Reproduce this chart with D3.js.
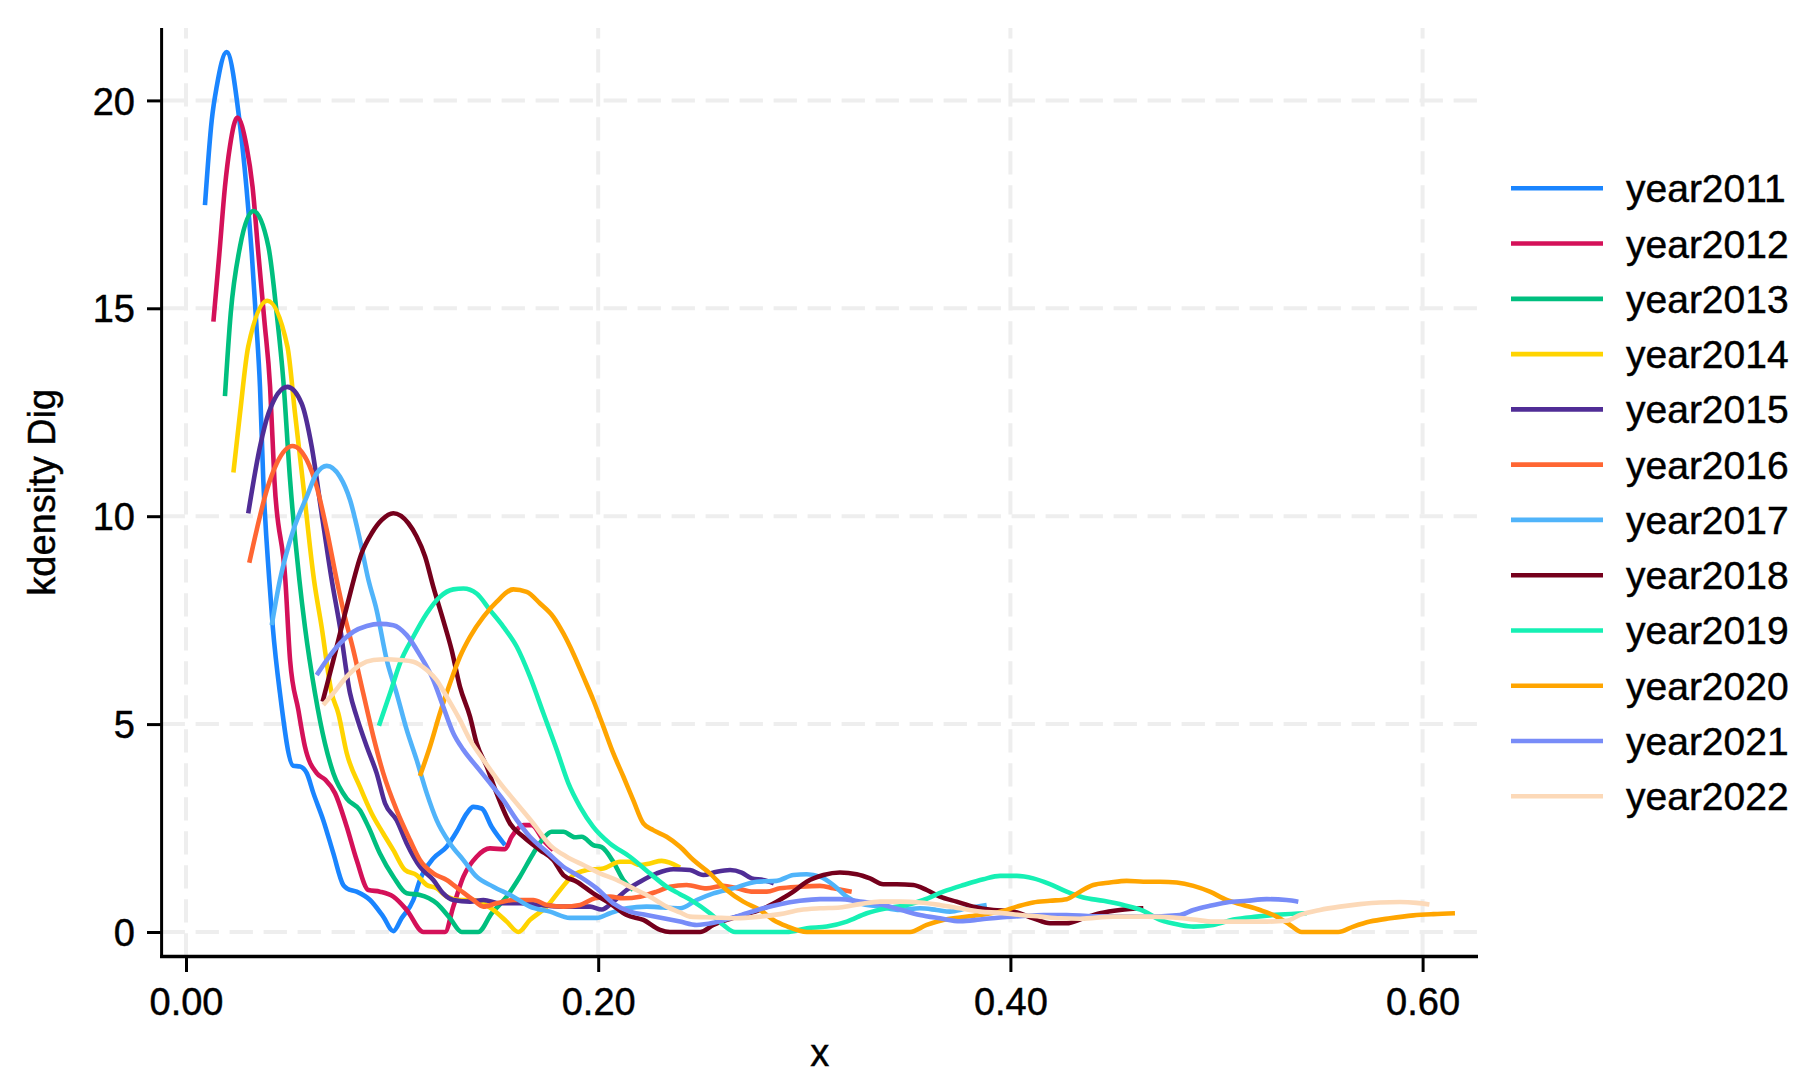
<!DOCTYPE html>
<html>
<head>
<meta charset="utf-8">
<script src="https://cdn.jsdelivr.net/npm/d3@7"></script>
<style>
  html, body { margin: 0; padding: 0; background: #ffffff; }
  svg text { font-family: "Liberation Sans", Arial, sans-serif; fill: #000; stroke: #000; stroke-width: 0.45px; }
</style>
</head>
<body>
<svg id="chart" width="1811" height="1090"></svg>
<script>
// ---- data (x, density) ----
const year2011 = [[0.0092,17.48],[0.0125,19.53],[0.0149,20.33],[0.0197,21.16],[0.0259,19.53],[0.0293,17.92],[0.0319,16.32],[0.034,14.72],[0.0359,13.11],[0.0375,10.87],[0.0404,8.47],[0.0421,7.34],[0.0456,5.74],[0.052,4.0],[0.0553,3.98],[0.0586,3.82],[0.0618,3.34],[0.0666,2.69],[0.0715,1.89],[0.0763,1.13],[0.078,1.05],[0.0828,0.97],[0.0893,0.77],[0.0957,0.37],[0.1006,0.02],[0.1046,0.33],[0.1103,0.77],[0.1135,1.25],[0.12,1.77],[0.1265,2.05],[0.1313,2.41],[0.1362,2.85],[0.1394,3.01],[0.1435,2.97],[0.1483,2.53],[0.1548,2.09]];
const year2012 = [[0.0133,14.68],[0.0162,16.32],[0.0189,17.92],[0.0213,18.89],[0.0249,19.59],[0.0294,18.89],[0.0323,17.92],[0.0351,16.32],[0.038,14.72],[0.0408,13.11],[0.0429,10.87],[0.0482,8.47],[0.0505,6.54],[0.0545,5.34],[0.0577,4.46],[0.0634,3.82],[0.0674,3.67],[0.0723,3.34],[0.078,2.53],[0.0828,1.73],[0.0885,1.01],[0.0941,0.97],[0.1006,0.85],[0.1071,0.53],[0.1152,0.0],[0.1257,0.0],[0.1297,0.61],[0.1346,1.33],[0.141,1.81],[0.1475,2.01],[0.1548,1.99],[0.158,2.29],[0.1637,2.57],[0.1677,2.57],[0.1734,2.21],[0.1782,1.97]];
const year2013 = [[0.0189,12.89],[0.0217,14.88],[0.0262,16.48],[0.0327,17.34],[0.04,16.48],[0.044,14.88],[0.0472,13.28],[0.0505,10.87],[0.055,8.47],[0.0577,7.34],[0.0626,5.74],[0.0674,4.54],[0.0715,3.82],[0.078,3.21],[0.0844,2.93],[0.0885,2.53],[0.0941,1.89],[0.1006,1.33],[0.1071,0.93],[0.1135,0.89],[0.1216,0.69],[0.1281,0.33],[0.1338,0.0],[0.1418,0.0],[0.1483,0.45],[0.1556,0.85],[0.162,1.33],[0.1685,1.89],[0.1734,2.25],[0.1774,2.41],[0.1831,2.41],[0.1887,2.28],[0.192,2.29],[0.1976,2.09],[0.2017,2.04],[0.2073,1.69],[0.2122,1.25],[0.217,1.01]];
const year2014 = [[0.023,11.05],[0.0262,12.47],[0.0302,14.08],[0.0395,15.18],[0.0492,14.08],[0.0529,12.47],[0.0566,10.87],[0.0621,8.47],[0.0658,7.34],[0.0707,5.74],[0.0739,5.26],[0.078,4.30],[0.0844,3.49],[0.0901,2.85],[0.0957,2.37],[0.1006,1.97],[0.1063,1.49],[0.1119,1.37],[0.1168,1.13],[0.1216,1.05],[0.1265,0.85],[0.1329,0.77],[0.1394,0.77],[0.1491,0.53],[0.1556,0.25],[0.1613,0.0],[0.1669,0.29],[0.175,0.61],[0.1815,1.01],[0.1879,1.37],[0.1944,1.49],[0.2025,1.53],[0.2106,1.69],[0.2154,1.69],[0.2203,1.61],[0.2251,1.65],[0.2308,1.71],[0.2397,1.55]];
const year2015 = [[0.0302,10.07],[0.0359,11.67],[0.04,12.47],[0.0492,13.11],[0.0561,12.71],[0.061,11.67],[0.0658,10.07],[0.0707,8.47],[0.0747,7.34],[0.0796,5.74],[0.0828,5.18],[0.0877,4.46],[0.0925,3.82],[0.0966,3.09],[0.1022,2.69],[0.1071,2.13],[0.1135,1.57],[0.12,1.25],[0.1248,0.93],[0.1297,0.77],[0.1378,0.73],[0.1443,0.77],[0.1524,0.69],[0.162,0.69],[0.1718,0.65],[0.1831,0.61],[0.196,0.61],[0.2017,0.54],[0.2073,0.73],[0.2138,1.01],[0.2203,1.21],[0.2284,1.41],[0.2364,1.51],[0.2445,1.49],[0.251,1.37],[0.2575,1.45],[0.264,1.49],[0.2696,1.43],[0.2745,1.29],[0.2801,1.25],[0.2852,1.17]];
const year2016 = [[0.0307,8.88],[0.0343,9.67],[0.0392,10.63],[0.044,11.27],[0.0517,11.69],[0.0586,11.35],[0.0634,10.71],[0.0683,9.67],[0.0731,8.47],[0.0763,7.74],[0.0812,6.78],[0.086,5.74],[0.0909,4.70],[0.0957,3.82],[0.1022,2.93],[0.1087,2.21],[0.1135,1.73],[0.12,1.41],[0.1265,1.25],[0.1329,1.01],[0.1394,0.77],[0.1443,0.61],[0.1507,0.69],[0.1588,0.77],[0.1685,0.77],[0.175,0.65],[0.1831,0.61],[0.1912,0.65],[0.1984,0.81],[0.2057,0.85],[0.2122,0.81],[0.2203,0.85],[0.2284,0.97],[0.2348,1.09],[0.2429,1.13],[0.2526,1.05],[0.2607,1.11],[0.2672,1.05],[0.2753,0.97],[0.2818,0.97],[0.2882,1.05],[0.2979,1.09],[0.3076,1.11],[0.3141,1.05],[0.323,0.97]];
const year2017 = [[0.0416,7.38],[0.0456,8.47],[0.0521,9.67],[0.0586,10.47],[0.0634,11.03],[0.0683,11.21],[0.0747,10.95],[0.0796,10.39],[0.0844,9.43],[0.0885,8.47],[0.0925,7.74],[0.0974,6.54],[0.1022,5.74],[0.1071,4.86],[0.1119,4.14],[0.1168,3.34],[0.1216,2.69],[0.1281,2.13],[0.1346,1.73],[0.141,1.33],[0.1491,1.09],[0.1588,0.85],[0.1669,0.61],[0.1766,0.49],[0.1863,0.34],[0.1993,0.34],[0.2057,0.45],[0.2138,0.57],[0.2235,0.61],[0.2316,0.59],[0.2397,0.57],[0.2478,0.77],[0.2559,0.93],[0.2655,1.05],[0.2769,1.21],[0.2866,1.23],[0.2947,1.37],[0.3012,1.39],[0.3076,1.33],[0.3141,1.13],[0.3206,0.85],[0.327,0.69],[0.3367,0.61],[0.3464,0.53],[0.3561,0.57],[0.3642,0.53],[0.3707,0.49],[0.3788,0.57],[0.3885,0.65]];
const year2018 = [[0.0663,5.54],[0.0715,6.54],[0.078,7.82],[0.0852,9.11],[0.0901,9.59],[0.095,9.91],[0.1006,10.07],[0.1079,9.83],[0.1119,9.51],[0.116,9.03],[0.12,8.30],[0.1248,7.50],[0.1289,6.78],[0.1329,5.90],[0.1378,5.18],[0.141,4.54],[0.1459,3.98],[0.1507,3.34],[0.1572,2.61],[0.1637,2.29],[0.1718,1.97],[0.1782,1.73],[0.1831,1.37],[0.1896,1.21],[0.1976,0.93],[0.2057,0.69],[0.2138,0.41],[0.2219,0.29],[0.23,0.05],[0.2348,0.0],[0.2494,0.0],[0.2559,0.17],[0.2623,0.29],[0.2704,0.41],[0.2785,0.53],[0.2866,0.73],[0.2947,0.97],[0.3012,1.21],[0.3093,1.37],[0.3173,1.43],[0.3254,1.39],[0.3319,1.29],[0.3383,1.15],[0.3448,1.15],[0.3529,1.13],[0.3594,1.01],[0.3658,0.85],[0.3739,0.73],[0.382,0.61],[0.3917,0.53],[0.4014,0.49],[0.4111,0.33],[0.4192,0.21],[0.4273,0.21],[0.4354,0.33],[0.4435,0.45],[0.4532,0.53],[0.4645,0.57]];
const year2019 = [[0.0936,4.96],[0.099,5.74],[0.1038,6.46],[0.1103,7.10],[0.1168,7.66],[0.1232,8.06],[0.1297,8.24],[0.1346,8.26],[0.141,8.14],[0.1475,7.74],[0.154,7.34],[0.1605,6.86],[0.1669,6.14],[0.1734,5.26],[0.1799,4.38],[0.1855,3.58],[0.1912,3.01],[0.1976,2.53],[0.2057,2.13],[0.2154,1.81],[0.2251,1.41],[0.2332,1.09],[0.2397,0.91],[0.2462,0.73],[0.2542,0.45],[0.2607,0.17],[0.2664,0.0],[0.2914,0.0],[0.3012,0.09],[0.3109,0.13],[0.3206,0.25],[0.3303,0.45],[0.34,0.57],[0.3497,0.65],[0.3578,0.77],[0.3674,0.97],[0.3772,1.13],[0.3869,1.27],[0.395,1.35],[0.4031,1.35],[0.4111,1.29],[0.4192,1.15],[0.4273,0.97],[0.4354,0.83],[0.4451,0.75],[0.4548,0.65],[0.4645,0.51],[0.4726,0.29],[0.4823,0.17],[0.4888,0.13],[0.4985,0.17],[0.5082,0.30],[0.5195,0.37],[0.5308,0.42],[0.5438,0.45]];
const year2020 = [[0.1135,3.75],[0.1184,4.46],[0.1232,5.26],[0.1281,5.98],[0.1329,6.62],[0.1378,7.10],[0.1443,7.58],[0.1507,7.94],[0.1588,8.24],[0.1653,8.18],[0.1718,7.90],[0.1782,7.58],[0.1831,7.18],[0.1879,6.70],[0.1928,6.14],[0.1976,5.58],[0.2025,4.94],[0.2073,4.30],[0.2122,3.74],[0.217,3.17],[0.2219,2.61],[0.2267,2.45],[0.2332,2.29],[0.2397,2.05],[0.2462,1.73],[0.2542,1.41],[0.2623,1.01],[0.2704,0.73],[0.2785,0.53],[0.285,0.29],[0.2914,0.14],[0.3012,0.0],[0.3513,0.0],[0.3594,0.17],[0.3674,0.29],[0.3756,0.35],[0.3853,0.41],[0.395,0.49],[0.4031,0.61],[0.4111,0.71],[0.4192,0.75],[0.4273,0.79],[0.4338,0.97],[0.4402,1.13],[0.4483,1.19],[0.4564,1.23],[0.4645,1.21],[0.4726,1.21],[0.4807,1.19],[0.4888,1.11],[0.4968,0.97],[0.5049,0.77],[0.513,0.65],[0.5211,0.53],[0.5292,0.37],[0.5357,0.17],[0.5413,0.0],[0.5591,0.0],[0.5664,0.13],[0.5745,0.25],[0.5842,0.33],[0.5955,0.40],[0.6052,0.43],[0.6157,0.45]];
const year2021 = [[0.0634,6.18],[0.0683,6.54],[0.0747,6.94],[0.0812,7.22],[0.0877,7.36],[0.0941,7.41],[0.1006,7.38],[0.1071,7.14],[0.1135,6.66],[0.12,6.06],[0.1248,5.42],[0.1297,4.78],[0.1346,4.38],[0.141,3.98],[0.1475,3.58],[0.154,3.17],[0.1605,2.69],[0.1669,2.29],[0.175,1.93],[0.1831,1.57],[0.1912,1.33],[0.1993,1.05],[0.2073,0.69],[0.2154,0.49],[0.2235,0.41],[0.2316,0.33],[0.2397,0.25],[0.2478,0.17],[0.2559,0.22],[0.264,0.33],[0.2721,0.45],[0.2801,0.57],[0.2882,0.67],[0.2979,0.75],[0.3076,0.79],[0.3173,0.79],[0.327,0.73],[0.3367,0.67],[0.3464,0.54],[0.3561,0.41],[0.3658,0.33],[0.3756,0.26],[0.3853,0.30],[0.395,0.35],[0.4047,0.38],[0.416,0.41],[0.4273,0.41],[0.4402,0.38],[0.4532,0.38],[0.4645,0.37],[0.4823,0.41],[0.4888,0.53],[0.4968,0.63],[0.5049,0.71],[0.5147,0.75],[0.5244,0.79],[0.534,0.77],[0.5397,0.73]];
const year2022 = [[0.0666,5.46],[0.0715,5.74],[0.078,6.14],[0.0844,6.42],[0.0909,6.54],[0.0974,6.56],[0.1038,6.54],[0.1103,6.50],[0.1168,6.30],[0.1216,6.06],[0.1265,5.66],[0.1329,5.10],[0.1378,4.62],[0.1443,4.14],[0.1524,3.58],[0.1605,3.09],[0.1685,2.61],[0.1766,2.09],[0.1847,1.81],[0.1928,1.61],[0.2009,1.41],[0.209,1.25],[0.217,1.05],[0.2251,0.85],[0.2332,0.61],[0.2397,0.47],[0.2445,0.37],[0.2559,0.35],[0.2672,0.33],[0.2785,0.37],[0.2882,0.43],[0.2979,0.53],[0.3076,0.57],[0.3173,0.59],[0.327,0.67],[0.3367,0.73],[0.3464,0.73],[0.3561,0.71],[0.3658,0.65],[0.3756,0.57],[0.3853,0.49],[0.395,0.46],[0.4047,0.41],[0.4144,0.37],[0.4241,0.33],[0.4338,0.32],[0.4499,0.37],[0.4661,0.37],[0.4791,0.35],[0.4888,0.30],[0.4985,0.25],[0.5114,0.25],[0.5244,0.25],[0.534,0.27],[0.5405,0.41],[0.5502,0.53],[0.5599,0.61],[0.5696,0.67],[0.5793,0.71],[0.589,0.72],[0.597,0.70],[0.6033,0.66]];

const seriesNames = ["year2011","year2012","year2013","year2014","year2015","year2016","year2017","year2018","year2019","year2020","year2021","year2022"];
const seriesData = [year2011,year2012,year2013,year2014,year2015,year2016,year2017,year2018,year2019,year2020,year2021,year2022];
const seriesColors = ["#1a85ff","#d41159","#00bf7f","#ffd400","#502d96","#ff6633","#50b4fa","#75001c","#16f0b4","#ffa500","#788cf8","#fcd9b8"];
const xTicks = [0, 0.2, 0.4, 0.6];
const yTicks = [0, 5, 10, 15, 20];
const xTitle = "x";
const yTitle = "kdensity Dig";

// ---- layout ----
const plot = { left: 161.6, right: 1478, top: 28, bottom: 956.5 };
const FONT = 38;
const svg = d3.select("#chart");

const x = d3.scaleLinear().domain([0, 0.6]).range([186, 1422.6]);
const y = d3.scaleLinear().domain([0, 20]).range([932, 100.4]);

// grid
const grid = svg.append("g").attr("stroke", "#eeeeee").attr("stroke-width", 4).attr("stroke-dasharray", "23.3,10.7").attr("fill", "none");
grid.selectAll("line.h").data(yTicks).join("line").attr("class", "h")
  .attr("x1", plot.left).attr("x2", plot.right)
  .attr("y1", d => y(d)).attr("y2", d => y(d));
grid.selectAll("line.v").data(xTicks).join("line").attr("class", "v")
  .attr("x1", d => x(d)).attr("x2", d => x(d))
  .attr("y1", plot.bottom).attr("y2", plot.top);

// curves
const line = d3.line().x(d => x(d[0])).y(d => y(d[1])).curve(d3.curveMonotoneX);
svg.append("g").selectAll("path").data(seriesData).join("path")
  .attr("d", d => line(d))
  .attr("fill", "none")
  .attr("stroke", (d, i) => seriesColors[i])
  .attr("stroke-width", 4.6)
  .attr("stroke-linejoin", "round");

// axes
const xAxis = d3.axisBottom(x).tickValues(xTicks).tickFormat(d3.format(".2f")).tickSize(15.5).tickPadding(16);
const gx = svg.append("g").attr("transform", `translate(0,${plot.bottom})`).call(xAxis);
const yAxis = d3.axisLeft(y).tickValues(yTicks).tickFormat(d3.format("d")).tickSize(14.6).tickPadding(12);
const gy = svg.append("g").attr("transform", `translate(${plot.left},0)`).call(yAxis);
[gx, gy].forEach(g => {
  g.select(".domain").remove();
  g.selectAll(".tick line").attr("stroke", "#000").attr("stroke-width", 3);
  g.selectAll(".tick text").attr("font-size", FONT).attr("font-family", '"Liberation Sans", Arial, sans-serif').attr("fill", "#000");
});
gy.selectAll(".tick text").attr("dy", "0.36em");
svg.append("line").attr("x1", plot.left).attr("x2", plot.left).attr("y1", plot.top).attr("y2", plot.bottom + 1.5)
  .attr("stroke", "#000").attr("stroke-width", 3);
svg.append("line").attr("x1", plot.left - 1.5).attr("x2", plot.right).attr("y1", plot.bottom).attr("y2", plot.bottom)
  .attr("stroke", "#000").attr("stroke-width", 3.5);

// titles
svg.append("text").attr("x", (plot.left + plot.right) / 2).attr("y", 1066)
  .attr("text-anchor", "middle").attr("font-size", FONT).text(xTitle);
svg.append("text").attr("transform", `translate(55,${(plot.top + plot.bottom) / 2}) rotate(-90)`)
  .attr("text-anchor", "middle").attr("font-size", FONT).text(yTitle);

// legend
const legend = svg.append("g");
const lg = legend.selectAll("g").data(seriesNames).join("g")
  .attr("transform", (d, i) => `translate(0,${188.3 + i * 55.27})`);
lg.append("line").attr("x1", 1511).attr("x2", 1603).attr("y1", 0).attr("y2", 0)
  .attr("stroke", (d, i) => seriesColors[i]).attr("stroke-width", 4.6);
lg.append("text").attr("x", 1626).attr("y", 14).attr("font-size", 39).text(d => d);
</script>
</body>
</html>
